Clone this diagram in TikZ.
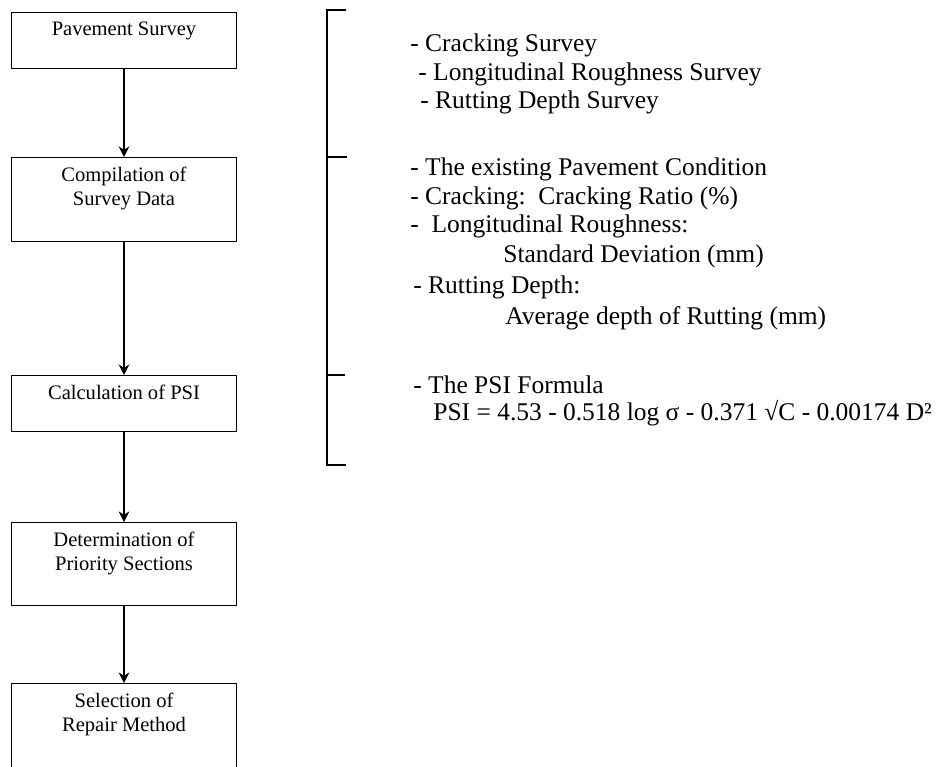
\documentclass[tikz,border=0pt]{standalone}
\usepackage{fontspec}
\setmainfont{Liberation Serif}
\usepackage{tikz}
\usetikzlibrary{arrows.meta,calc,positioning}

\newcommand{\stagetext}[2]{\parbox[t][#1][t]{4.5cm}{\centering\vspace{0.18cm}#2}}

\begin{document}
\begin{tikzpicture}[
  stage/.style={draw,line width=0.8pt,anchor=north,inner sep=0pt,
    font=\fontsize{11.7}{13.7}\selectfont},
  note/.style={anchor=west,inner sep=0pt,font=\fontsize{14.5}{16.5}\selectfont},
  flow/.style={-{Stealth[length=6pt,width=6pt]},line width=1.1pt}]
\clip (0,0) rectangle (18.82,-15.32);

% Flow of the procedure
\node[stage] (survey)  at (2.48,-0.24)  {\stagetext{1.12cm}{Pavement Survey}};
\node[stage] (compile) at (2.48,-3.14)  {\stagetext{1.68cm}{Compilation of\\Survey Data}};
\node[stage] (psi)     at (2.48,-7.50)  {\stagetext{1.12cm}{Calculation of PSI}};
\node[stage] (prio)    at (2.48,-10.44) {\stagetext{1.66cm}{Determination of\\Priority Sections}};
\node[stage] (repair)  at (2.48,-13.66) {\stagetext{2.2cm}{Selection of\\Repair Method}};

\draw[flow] (survey) -- (compile);
\draw[flow] (compile) -- (psi);
\draw[flow] (psi) -- (prio);
\draw[flow] (prio) -- (repair);

% Bracket
\coordinate (btop) at (6.54,-0.2);
\coordinate (bbot) at (6.54,-9.3);
\draw[line width=1.1pt] ($(btop)+(0.38,0)$) -- (btop) -- (bbot) -- ($(bbot)+(0.38,0)$);
\draw[line width=0.7pt] (btop |- compile.north) -- ++(0.4,0);
\draw[line width=0.7pt] (btop |- psi.north) -- ++(0.36,0);

% Survey items
\node[note] (crack)   at (8.20,-0.90) {- Cracking Survey};
\node[note] (rough)   at (8.36,-1.48) {- Longitudinal Roughness Survey};
\node[note] (rut)     at (8.40,-2.04) {- Rutting Depth Survey};

% Survey data
\node[note] (cond)    at (8.20,-3.38) {- The existing Pavement Condition};
\node[note] (ratio)   at (8.20,-3.96) {- Cracking:\ \ Cracking Ratio (\%)};
\node[note] (longr)   at (8.20,-4.52) {-\ \ Longitudinal Roughness:};
\node[note] (stdev)   at (10.06,-5.12) {Standard Deviation (mm)};
\node[note] (rutd)    at (8.26,-5.74) {- Rutting Depth:};
\node[note] (avgd)    at (10.10,-6.36) {Average depth of Rutting (mm)};

% PSI
\node[note] (formula) at (8.26,-7.70) {- The PSI Formula};
\node[note] (eq)      at (8.66,-8.26) {PSI = 4.53 - 0.518 log σ - 0.371 √C - 0.00174 D²};
\end{tikzpicture}
\end{document}
